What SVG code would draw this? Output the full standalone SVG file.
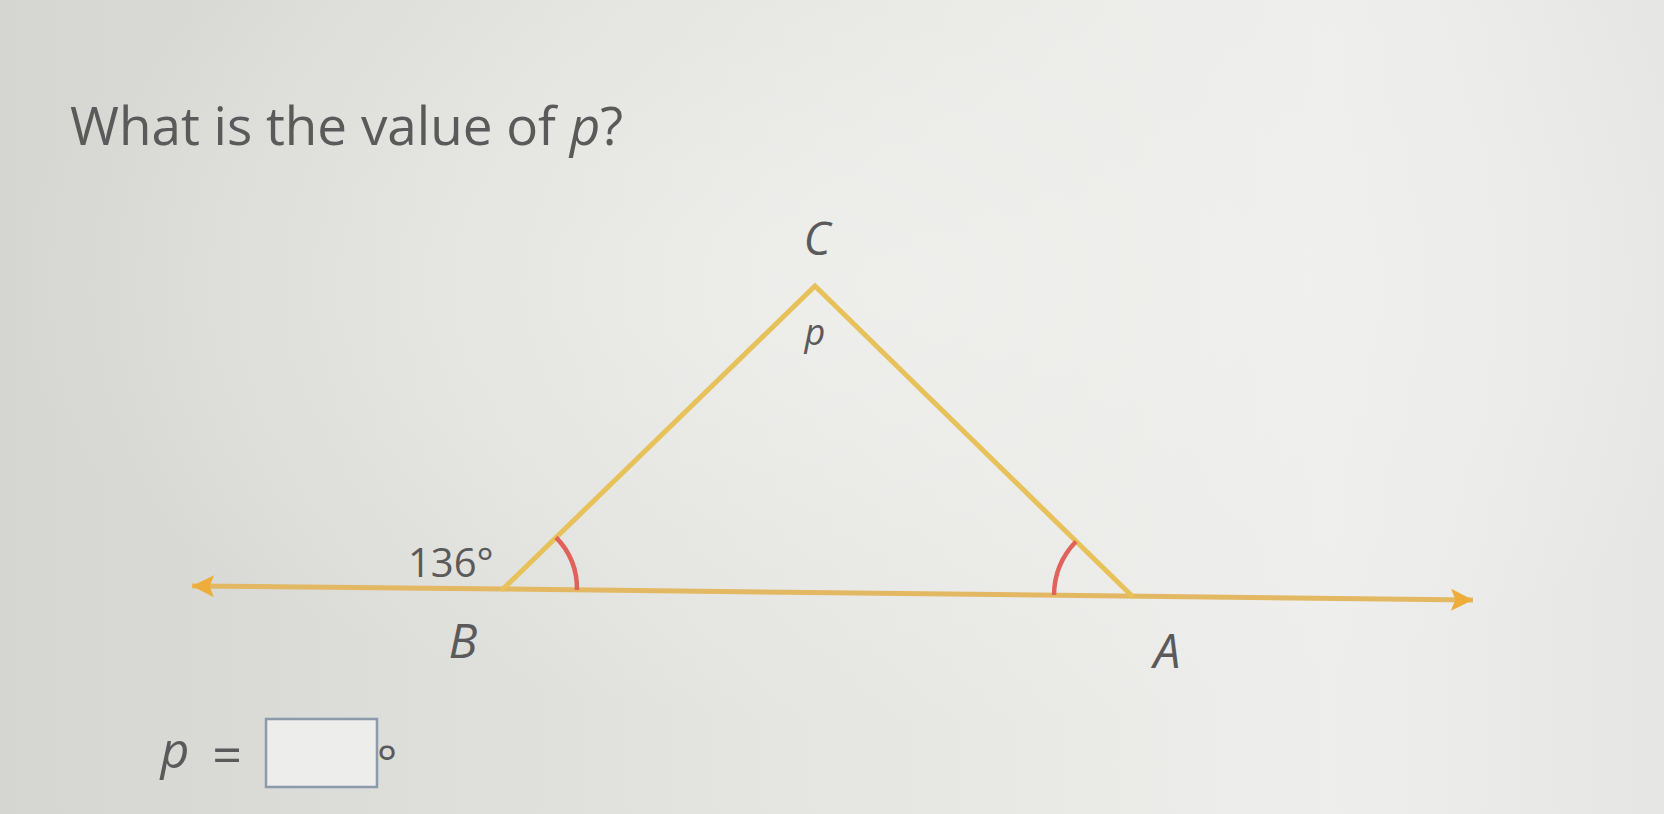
<svg xmlns="http://www.w3.org/2000/svg" width="1664" height="814" viewBox="0 0 1664 814">
<defs>
<linearGradient id="bg" x1="0" y1="0" x2="1" y2="0">
<stop offset="0" stop-color="#d5d6d1"/>
<stop offset="0.45" stop-color="#e4e4e1"/>
<stop offset="0.8" stop-color="#eeeeec"/>
<stop offset="1" stop-color="#e6e6e4"/>
</linearGradient>
<radialGradient id="glow" cx="0.55" cy="0.35" r="0.55">
<stop offset="0" stop-color="#f2f2f0" stop-opacity="0.7"/>
<stop offset="1" stop-color="#f2f2f0" stop-opacity="0"/>
</radialGradient>
<marker id="arrow" viewBox="0 0 10 10" refX="10" refY="5" markerWidth="6" markerHeight="4.4" markerUnits="strokeWidth" orient="auto">
<path d="M0,0 L10,5 L0,10 L2,5 Z" fill="#eeac3a"/>
</marker>
</defs>
<style>
.lbl{font-family:"Open Sans","DejaVu Sans",sans-serif;fill:#5a5a5a}
.it{font-style:italic}
.side{stroke:#e7c159;stroke-width:5;fill:none;stroke-linecap:round}
.base{stroke:#e3b862;stroke-width:5;fill:none}
.arc{stroke:#e0625a;stroke-width:4.5;fill:none}
</style>
<rect width="1664" height="814" fill="url(#bg)"/>
<rect width="1664" height="814" fill="url(#glow)"/>

<g id="title"><text class="lbl" x="70" y="145" font-size="53">What is the value of <tspan class="it">p</tspan>?</text></g>

<g id="connectors">
<line class="base" x1="503" y1="589" x2="192" y2="586" marker-end="url(#arrow)"/>
<line class="base" x1="503" y1="589" x2="1473" y2="600" marker-end="url(#arrow)"/>
<polyline class="side" points="503,589 815,286 1132,596"/>
<path class="arc" d="M577,590 A74,74 0 0 0 556,537.4"/>
<path class="arc" d="M1054,595 A78,78 0 0 1 1076,541.5"/>
</g>

<g id="node-C"><text class="lbl it" x="817" y="255" font-size="46" text-anchor="middle">C</text></g>
<g id="node-p"><text class="lbl it" x="815" y="345" font-size="36" text-anchor="middle">p</text></g>
<g id="node-B"><text class="lbl it" x="463" y="658" font-size="48" text-anchor="middle">B</text></g>
<g id="node-A"><text class="lbl it" x="1167" y="668" font-size="48" text-anchor="middle">A</text></g>
<g id="label-136"><text class="lbl" x="408" y="577" font-size="40">136°</text></g>

<g id="answer">
<text class="lbl it" x="175" y="768" font-size="50" text-anchor="middle">p</text>
<text class="lbl" x="227" y="773" font-size="52" text-anchor="middle">=</text>
<rect x="266" y="719" width="111" height="68" fill="#ededec" stroke="#8c9aab" stroke-width="2.5"/>
<text class="lbl" x="387" y="780" font-size="48" text-anchor="middle">°</text>
</g>
</svg>
